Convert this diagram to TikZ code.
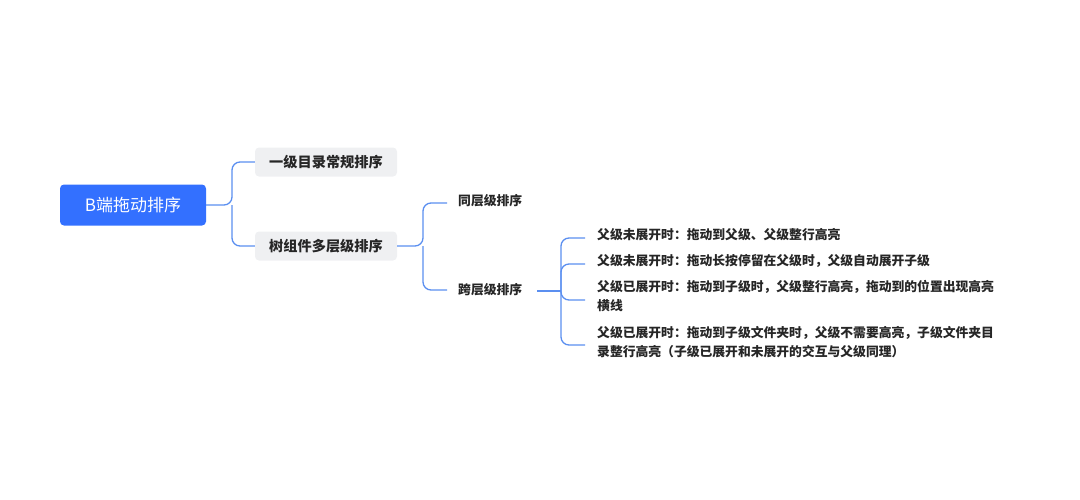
\documentclass[tikz,border=0pt]{standalone}
\usepackage{fontspec}
\setmainfont{Noto Sans CJK SC}
\usetikzlibrary{positioning}
\usetikzlibrary{calc}
\definecolor{mblue}{RGB}{51,112,255}
\definecolor{mline}{RGB}{91,143,240}
\definecolor{mgray}{RGB}{239,240,242}
\definecolor{mtext}{RGB}{38,38,38}

\begin{document}
\begin{tikzpicture}[x=1pt, y=-1pt,
    root/.style={fill=mblue, text=white, rounded corners=4pt, minimum width=146pt, minimum height=41pt, font=\fontsize{17}{20}\selectfont},
    topic/.style={fill=mgray, text=mtext, rounded corners=4pt, minimum width=142pt, minimum height=29pt, font=\bfseries\fontsize{14.2}{17}\selectfont},
    subtopic/.style={text=mtext, anchor=west, inner sep=0pt, font=\bfseries\fontsize{12.8}{17}\selectfont},
    leaf/.style={subtopic, anchor=north west, align=left, font=\bfseries\fontsize{12.8}{19.5}\selectfont},
    branch/.style={mline, line width=1.3pt, rounded corners=8pt},
]
\useasboundingbox (0,0) rectangle (1080,499);

\node[root] (drag) at (133,205) {B端拖动排序};

\node[topic] (flat) at (326,162) {一级目录常规排序};
\node[topic] (tree) at (326,246) {树组件多层级排序};

\node[subtopic] (same) at (458,201) {同层级排序};
\node[subtopic] (cross) at (458,290) {跨层级排序};

\node[leaf] (closeda) at (597,228) {父级未展开时：拖动到父级、父级整行高亮};
\node[leaf] (closedb) at (597,254) {父级未展开时：拖动长按停留在父级时，父级自动展开子级};
\node[leaf] (openedb) at (597,280) {父级已展开时：拖动到子级时，父级整行高亮，拖动到的位置出现高亮\\横线};
\node[leaf] (openeda) at (597,326) {父级已展开时：拖动到子级文件夹时，父级不需要高亮，子级文件夹目\\录整行高亮（子级已展开和未展开的交互与父级同理）};

% first level
\coordinate (fork_drag) at (232,205);
\draw[branch] (drag.east) -- (fork_drag) |- (flat.west);
\draw[branch] (fork_drag) |- (tree.west);

% second level
\coordinate (fork_tree) at (423,246);
\draw[branch] (tree.east) -- (fork_tree) |- (447,203) coordinate (end_same);
\draw[branch] (fork_tree) |- (447,290) coordinate (end_cross);

% third level
\coordinate (start_cross) at (537,291);
\coordinate (fork_cross) at (561,291);
\draw[branch] (start_cross) -- (fork_cross);
\draw[branch] (fork_cross) |- (585,238) coordinate (end_closeda);
\draw[branch] (fork_cross) |- (585,264) coordinate (end_closedb);
\draw[branch] (fork_cross) |- (585,300) coordinate (end_openedb);
\draw[branch] (fork_cross) |- (585,345) coordinate (end_openeda);
\end{tikzpicture}
\end{document}
